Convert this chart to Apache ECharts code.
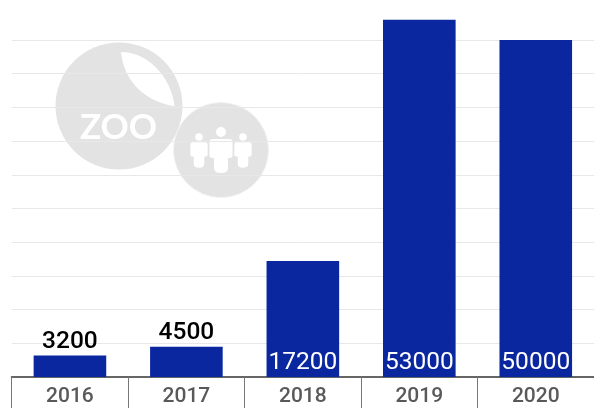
<!DOCTYPE html>
<html><head><meta charset="utf-8">
<style>html,body{margin:0;padding:0;background:#fff}#c{width:594px;height:408px}</style>
<script src="https://cdn.jsdelivr.net/npm/echarts@6/dist/echarts.min.js"></script>
</head><body><div id="c"></div>
<script>
const categories = ['2016','2017','2018','2019','2020'];
const values = [3200,4500,17200,53000,50000];
const insideFrom = 10000;
const chart = echarts.init(document.getElementById('c'), null, {renderer:'canvas'});
let shapeId = 0;
const pathEl = (d) => {
  const name = 'logoShape' + (shapeId++);
  echarts.graphic.registerShape(name, echarts.graphic.extendPath(d, {}));
  return {type:name, style:{fill:'#fff'}, silent:true};
};
const person = (cx, top, s) => {
  const head = {type:'circle', shape:{cx:cx, cy:top, r:5*s}, style:{fill:'#fff'}, silent:true};
  const t = top + 7*s;
  const body = pathEl(`M${cx-8*s} ${t} L${cx+8*s} ${t} Q${cx+11.5*s} ${t} ${cx+11.5*s} ${t+3*s} L${cx+11.5*s} ${t+17*s} Q${cx+11.5*s} ${t+19*s} ${cx+7*s} ${t+19*s} L${cx+7*s} ${t+29*s} Q${cx+7*s} ${t+34*s} ${cx} ${t+34*s} Q${cx-7*s} ${t+34*s} ${cx-7*s} ${t+29*s} L${cx-7*s} ${t+19*s} Q${cx-11.5*s} ${t+19*s} ${cx-11.5*s} ${t+17*s} L${cx-11.5*s} ${t+3*s} Q${cx-11.5*s} ${t} ${cx-8*s} ${t} Z`);
  return [head, body];
};
chart.setOption({
  animation:false,
  grid:{left:11.7, right:-1, top:13, bottom:31},
  xAxis:{type:'category', data:categories,
    axisLine:{show:true, lineStyle:{color:'#666', width:2}},
    axisTick:{show:true, alignWithLabel:false, length:31, lineStyle:{color:'#777', width:1}},
    axisLabel:{fontFamily:'Roboto', fontWeight:500, fontSize:21, color:'#595959', margin:9}},
  yAxis:{type:'value', min:0, max:54000, interval:5000,
    axisLine:{show:false}, axisTick:{show:false}, axisLabel:{show:false},
    splitLine:{show:true, showMinLine:false, showMaxLine:false, lineStyle:{color:'#e8e8e8', width:1}}},
  series:[{type:'bar', barWidth:72.6, z:3,
    data:values.map(v=>({value:v,
      label: v>=insideFrom
        ? {show:true, position:'insideBottom', distance:2, color:'#fff', fontWeight:400}
        : {show:true, position:'top', distance:1, color:'#000', fontWeight:500}})),
    itemStyle:{color:'#0a27a0'},
    label:{fontFamily:'Roboto', fontSize:24.5}}],
  graphic:[{type:'group', z:1, silent:true, children:[
    {type:'circle', shape:{cx:119,cy:106,r:63.5}, style:{fill:'#e3e3e3'}},
    pathEl('M121 52 C150 52 172 80 174.5 106.5 C145 101 124 82 121 52 Z'),
    {type:'text', style:{x:118.5,y:128,text:'ZOO',fill:'#fff',font:'bold 35px Lato',textAlign:'center',textVerticalAlign:'middle'}},
    {type:'circle', shape:{cx:221,cy:150,r:47.5}, style:{fill:'#e3e3e3',stroke:'#f2f2f2',lineWidth:1}},
    ...person(221,132,1),
    ...person(199,137,.75),
    ...person(243,137,.75)
  ]}]
});
</script></body></html>
